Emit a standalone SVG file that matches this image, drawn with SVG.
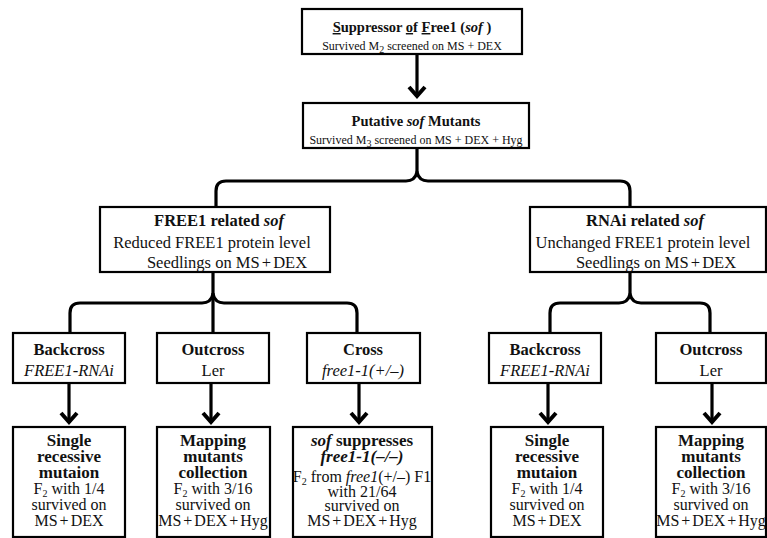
<svg xmlns="http://www.w3.org/2000/svg" width="767" height="538" viewBox="0 0 767 538">
<defs>
<style>
.box{fill:#fff;stroke:#000;stroke-width:2.2}
.con{fill:none;stroke:#000;stroke-width:3.2;stroke-linecap:round;stroke-linejoin:round}
.arr{fill:none;stroke:#000;stroke-width:3.2}
text{font-family:"Liberation Serif","Times New Roman",serif;fill:#111;text-anchor:middle}
.t14{font-size:14.5px;font-weight:bold}
.s12{font-size:12px}
.b16{font-size:16.5px;font-weight:bold}
.r16{font-size:16.5px}
.i16{font-size:16.5px;font-style:italic}
.b17{font-size:17px;font-weight:bold}
.r17{font-size:16px}
.ms{word-spacing:-2px}
.sub{font-size:10px}
</style>
<marker id="ah" markerUnits="userSpaceOnUse" markerWidth="22" markerHeight="22" refX="12" refY="11" orient="auto">
<path d="M2,3 L11,11 L2,19" fill="none" stroke="#000" stroke-width="4"/>
</marker>
</defs>

<g id="connectors">
<line class="arr" x1="417" y1="55" x2="417" y2="97" marker-end="url(#ah)"/>
<path class="con" d="M417,149 L417,172 Q419,181 428,181 L620,181 Q630,181 630,191 L630,207"/>
<path class="con" d="M417,172 Q415,181 406,181 L226,181 Q216,181 216,191 L216,207"/>
<path class="con" d="M213,273 L213,333"/>
<path class="con" d="M213,294 Q211,303 202,303 L80,303 Q70,303 70,313 L70,333"/>
<path class="con" d="M213,294 Q215,303 224,303 L347,303 Q357,303 357,313 L357,333"/>
<path class="con" d="M630,273 L630,294 Q632,303 641,303 L700,303 Q710,303 710,313 L710,333"/>
<path class="con" d="M630,294 Q628,303 619,303 L560,303 Q550,303 550,313 L550,333"/>
<line class="arr" x1="69" y1="384" x2="69" y2="423" marker-end="url(#ah)"/>
<line class="arr" x1="211" y1="384" x2="211" y2="423" marker-end="url(#ah)"/>
<line class="arr" x1="359" y1="384" x2="359" y2="423" marker-end="url(#ah)"/>
<line class="arr" x1="548" y1="384" x2="548" y2="423" marker-end="url(#ah)"/>
<line class="arr" x1="712" y1="384" x2="712" y2="423" marker-end="url(#ah)"/>
</g>

<g id="sof">
<rect class="box" x="302" y="9" width="220" height="45"/>
<text class="t14" x="412" y="32"><tspan text-decoration="underline">S</tspan>uppressor <tspan text-decoration="underline">o</tspan>f <tspan text-decoration="underline">F</tspan>ree1 (<tspan font-style="italic">sof</tspan> )</text>
<text class="s12" x="412" y="50">Survived M<tspan class="sub" dy="3">2</tspan><tspan dy="-3"> screened on MS + DEX</tspan></text>
</g>

<g id="putative">
<rect class="box" x="303" y="103" width="226" height="45"/>
<text class="t14" x="416" y="126">Putative <tspan font-style="italic">sof</tspan> Mutants</text>
<text class="s12" x="416" y="144">Survived M<tspan class="sub" dy="3">3</tspan><tspan dy="-3"> screened on MS + DEX + Hyg</tspan></text>
</g>

<g id="free1related">
<rect class="box" x="100" y="207" width="230" height="65"/>
<text class="b16" x="219" y="226">FREE1 related <tspan font-style="italic">sof</tspan></text>
<text class="r16" x="212" y="248">Reduced FREE1 protein level</text>
<text class="r16" x="227" y="268">Seedlings on <tspan class="ms">MS + DEX</tspan></text>
</g>

<g id="rnairelated">
<rect class="box" x="530" y="207" width="236" height="65"/>
<text class="b16" x="645" y="226">RNAi related <tspan font-style="italic">sof</tspan></text>
<text class="r16" x="643" y="248">Unchanged FREE1 protein level</text>
<text class="r16" x="656" y="268">Seedlings on <tspan class="ms">MS + DEX</tspan></text>
</g>

<g id="backcross1">
<rect class="box" x="13" y="333" width="112" height="50"/>
<text class="b16" x="69" y="355">Backcross</text>
<text class="i16" x="69" y="376">FREE1-RNAi</text>
</g>

<g id="outcross1">
<rect class="box" x="157" y="333" width="112" height="50"/>
<text class="b16" x="213" y="355">Outcross</text>
<text class="r16" x="213" y="376">Ler</text>
</g>

<g id="cross">
<rect class="box" x="307" y="333" width="113" height="50"/>
<text class="b16" x="363" y="355">Cross</text>
<text class="i16" x="363" y="376">free1-1(+/–)</text>
</g>

<g id="backcross2">
<rect class="box" x="489" y="333" width="112" height="50"/>
<text class="b16" x="545" y="355">Backcross</text>
<text class="i16" x="545" y="376">FREE1-RNAi</text>
</g>

<g id="outcross2">
<rect class="box" x="656" y="333" width="110" height="50"/>
<text class="b16" x="711" y="355">Outcross</text>
<text class="r16" x="711" y="376">Ler</text>
</g>

<g id="single1">
<rect class="box" x="13" y="427" width="112" height="110"/>
<text class="b17" x="69" y="446">Single</text>
<text class="b17" x="69" y="462">recessive</text>
<text class="b17" x="69" y="478">mutaion</text>
<text class="r17" x="69" y="494">F<tspan class="sub" dy="3">2</tspan><tspan dy="-3"> with 1/4</tspan></text>
<text class="r17" x="69" y="510">survived on</text>
<text class="r17 ms" x="69" y="526">MS + DEX</text>
</g>

<g id="mapping1">
<rect class="box" x="157" y="427" width="113" height="110"/>
<text class="b17" x="213" y="446">Mapping</text>
<text class="b17" x="213" y="462">mutants</text>
<text class="b17" x="213" y="478">collection</text>
<text class="r17" x="213" y="494">F<tspan class="sub" dy="3">2</tspan><tspan dy="-3"> with 3/16</tspan></text>
<text class="r17" x="213" y="510">survived on</text>
<text class="r17 ms" x="213" y="526">MS + DEX + Hyg</text>
</g>

<g id="suppresses">
<rect class="box" x="293" y="427" width="139" height="110"/>
<text class="b17" x="362" y="446"><tspan font-style="italic">sof</tspan> suppresses</text>
<text class="b17" x="362" y="462" font-style="italic">free1-1(–/–)</text>
<text class="r17" x="362" y="482">F<tspan class="sub" dy="3">2</tspan><tspan dy="-3"> from </tspan><tspan font-style="italic">free1</tspan>(+/–) F1</text>
<text class="r17" x="362" y="497">with 21/64</text>
<text class="r17" x="362" y="511">survived on</text>
<text class="r17 ms" x="362" y="526">MS + DEX + Hyg</text>
</g>

<g id="single2">
<rect class="box" x="491" y="427" width="112" height="110"/>
<text class="b17" x="547" y="446">Single</text>
<text class="b17" x="547" y="462">recessive</text>
<text class="b17" x="547" y="478">mutaion</text>
<text class="r17" x="547" y="494">F<tspan class="sub" dy="3">2</tspan><tspan dy="-3"> with 1/4</tspan></text>
<text class="r17" x="547" y="510">survived on</text>
<text class="r17 ms" x="547" y="526">MS + DEX</text>
</g>

<g id="mapping2">
<rect class="box" x="656" y="427" width="110" height="110"/>
<text class="b17" x="711" y="446">Mapping</text>
<text class="b17" x="711" y="462">mutants</text>
<text class="b17" x="711" y="478">collection</text>
<text class="r17" x="711" y="494">F<tspan class="sub" dy="3">2</tspan><tspan dy="-3"> with 3/16</tspan></text>
<text class="r17" x="711" y="510">survived on</text>
<text class="r17 ms" x="711" y="526">MS + DEX + Hyg</text>
</g>
</svg>
